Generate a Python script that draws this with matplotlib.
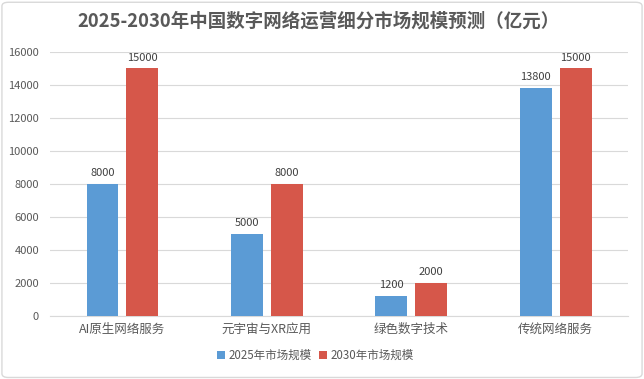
import numpy as np
import matplotlib
matplotlib.use("Agg")
import matplotlib.pyplot as plt
from matplotlib.patches import FancyBboxPatch

plt.rcParams['font.family'] = ['Noto Sans CJK SC', 'DejaVu Sans']

# --- data ---
categories = ["AI原生网络服务", "元宇宙与XR应用", "绿色数字技术", "传统网络服务"]
v2025 = [8000, 5000, 1200, 13800]
v2030 = [15000, 8000, 2000, 15000]
series_names = ["2025年市场规模", "2030年市场规模"]
title = "2025-2030年中国数字网络运营细分市场规模预测（亿元）"

BLUE = "#5B9BD5"
RED = "#D6574A"
TXT = "#595959"

fig = plt.figure(figsize=(6.44, 3.79), dpi=100)
ax = fig.add_axes([0.078, 0.166, 0.897, 0.697])

x = np.arange(len(categories))
w = 0.22
off = 0.138
b1 = ax.bar(x - off, v2025, w, color=BLUE, label=series_names[0], zorder=3)
b2 = ax.bar(x + off, v2030, w, color=RED, label=series_names[1], zorder=3)

for bars in (b1, b2):
    for r in bars:
        ax.text(r.get_x() + r.get_width() / 2, r.get_height() + 350,
                f"{int(r.get_height())}", ha="center", va="bottom",
                fontsize=8, color="#404040")

ax.set_xlim(-0.5, len(categories) - 0.5)
ax.set_ylim(0, 16000)
ax.set_yticks(np.arange(0, 16001, 2000))
ax.set_xticks(x)
ax.set_xticklabels(categories, fontsize=9, color=TXT)
ax.tick_params(axis="y", labelsize=8, labelcolor=TXT, length=0, pad=8)
ax.tick_params(axis="x", length=0, pad=5)
ax.grid(axis="y", color="#D9D9D9", linewidth=0.8, zorder=0)
for s in ["top", "right", "left"]:
    ax.spines[s].set_visible(False)
ax.spines["bottom"].set_color("#D9D9D9")

fig.text(0.495, 0.945, title, ha="center", va="center", fontsize=13.3,
         fontweight="bold", color=TXT)

fig.legend(handles=[b1, b2], labels=series_names, loc="center",
           bbox_to_anchor=(0.49, 0.063), ncol=2, frameon=False,
           fontsize=8.3, handlelength=0.7, handleheight=0.7,
           columnspacing=0.6, handletextpad=0.3, labelcolor=TXT)

border = FancyBboxPatch((0.003, 0.004), 0.994, 0.99,
                        boxstyle="round,pad=0,rounding_size=0.01",
                        transform=fig.transFigure, fill=False,
                        edgecolor="#D9D9D9", linewidth=1)
fig.patches.append(border)

fig.savefig("out.png", dpi=100)
